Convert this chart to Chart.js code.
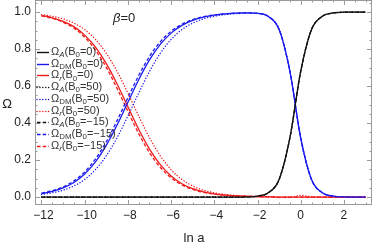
<!DOCTYPE html>
<html>
<head>
<meta charset="utf-8">
<script src="https://cdn.jsdelivr.net/npm/chart.js@4"></script>
<style>
  body { margin: 0; background: #fff; }
  #wrap { width: 374px; height: 245px; position: relative; }
</style>
</head>
<body>
<div id="wrap"><canvas id="omegaChart"></canvas></div>
<script>
// ln a sample points
const lnA = [-12, -11.5, -11, -10.5, -10, -9.5, -9, -8.5, -8, -7.5, -7, -6.5, -6, -5.5, -5, -4.5,
  -4, -3.5, -3, -2.5, -2, -1.5, -1, -0.5, 0, 0.5, 1, 1.5, 2, 2.5, 3];

// B0 = 0 (solid)
const omegaA_0 = [0, 0, 0, 0, 0, 0, 0, 0, 0, 0, 0, 0, 0, 0, 0, 0, 0, 0,
  0, 0.001, 0.005, 0.023, 0.095, 0.321, 0.679, 0.905, 0.977, 0.995, 0.999, 1.0, 1.0];
const omegaDM_0 = [0.019, 0.031, 0.050, 0.079, 0.125, 0.190, 0.279, 0.389, 0.512, 0.634, 0.741,
  0.825, 0.886, 0.928, 0.955, 0.972, 0.983, 0.990, 0.994, 0.995, 0.993, 0.976, 0.905, 0.679,
  0.321, 0.095, 0.023, 0.005, 0.001, 0, 0];
const omegaR_0 = [0.981, 0.969, 0.950, 0.921, 0.875, 0.810, 0.721, 0.611, 0.488, 0.366, 0.259,
  0.175, 0.114, 0.072, 0.045, 0.028, 0.017, 0.010, 0.006, 0.004, 0.002, 0.001, 0, 0, 0, 0, 0,
  0, 0, 0, 0];

// B0 = 50 (dotted)
const omegaA_50 = [0, 0, 0, 0, 0, 0, 0, 0, 0, 0, 0, 0, 0, 0, 0, 0, 0, 0,
  0, 0.001, 0.005, 0.023, 0.095, 0.321, 0.679, 0.905, 0.977, 0.995, 0.999, 1.0, 1.0];
const omegaDM_50 = [0.014, 0.023, 0.037, 0.060, 0.095, 0.148, 0.223, 0.321, 0.438, 0.562, 0.679,
  0.777, 0.852, 0.905, 0.940, 0.963, 0.977, 0.986, 0.991, 0.994, 0.992, 0.975, 0.908, 0.681,
  0.312, 0.094, 0.023, 0.005, 0.001, 0, 0];
const omegaR_50 = [0.986, 0.977, 0.963, 0.940, 0.905, 0.852, 0.777, 0.679, 0.562, 0.438, 0.321,
  0.223, 0.148, 0.095, 0.060, 0.037, 0.023, 0.014, 0.009, 0.005, 0.003, 0.002, -0.003, -0.002,
  0.009, 0.001, 0, 0, 0, 0, 0];

// B0 = -15 (dashed)
const omegaA_m15 = [0, 0, 0, 0, 0, 0, 0, 0, 0, 0, 0, 0, 0, 0, 0, 0, 0, 0,
  0, 0.001, 0.005, 0.023, 0.095, 0.321, 0.679, 0.905, 0.977, 0.995, 0.999, 1.0, 1.0];
const omegaDM_m15 = [0.021, 0.034, 0.055, 0.087, 0.136, 0.206, 0.299, 0.413, 0.537, 0.657, 0.760,
  0.839, 0.896, 0.934, 0.959, 0.975, 0.984, 0.990, 0.994, 0.995, 0.993, 0.976, 0.905, 0.679,
  0.321, 0.095, 0.023, 0.005, 0.001, 0, 0];
const omegaR_m15 = [0.979, 0.966, 0.945, 0.913, 0.864, 0.794, 0.701, 0.587, 0.463, 0.343, 0.240,
  0.161, 0.104, 0.066, 0.041, 0.025, 0.016, 0.010, 0.006, 0.004, 0.002, 0.001, 0, 0, 0, 0, 0,
  0, 0, 0, 0];

const xTicks = [-12, -10, -8, -6, -4, -2, 0, 2];
const xTickLabels = ["−12", "−10", "−8", "−6", "−4", "−2", "0", "2"];
const yTicks = [0, 0.2, 0.4, 0.6, 0.8, 1.0];
const yTickLabels = ["0.0", "0.2", "0.4", "0.6", "0.8", "1.0"];

const BLACK = "#111111", BLUE = "#1a1aee", RED = "#ee1a1a";
const DOT = [0.1, 2.8], DASH = [3.5, 2.2];

function pts(arr) {
  return lnA.map((x, i) => ({ x: x, y: arr[i] }));
}
function series(label, arr, color, dash) {
  return {
    label: label,
    data: pts(arr),
    borderColor: color,
    borderWidth: dash === DOT ? 1.4 : 1.3,
    borderDash: dash || [],
    borderCapStyle: dash === DOT ? "round" : "butt",
    pointRadius: 0,
    cubicInterpolationMode: "monotone",
    fill: false,
  };
}

const datasets = [
  series("Ω_{A}(B_{0}=0)", omegaA_0, BLACK),
  series("Ω_{DM}(B_{0}=0)", omegaDM_0, BLUE),
  series("Ω_{r}(B_{0}=0)", omegaR_0, RED),
  series("Ω_{A}(B_{0}=50)", omegaA_50, BLACK, DOT),
  series("Ω_{DM}(B_{0}=50)", omegaDM_50, BLUE, DOT),
  series("Ω_{r}(B_{0}=50)", omegaR_50, RED, DOT),
  series("Ω_{A}(B_{0}=−15)", omegaA_m15, BLACK, DASH),
  series("Ω_{DM}(B_{0}=−15)", omegaDM_m15, BLUE, DASH),
  series("Ω_{r}(B_{0}=−15)", omegaR_m15, RED, DASH),
];

const FONT = "'Liberation Sans', Arial, sans-serif";

// draw text with _{sub} parts
function drawRich(ctx, str, x, y, size) {
  const parts = str.split(/(_\{[^}]*\})/);
  for (const p of parts) {
    if (!p) continue;
    if (p.startsWith("_{")) {
      const s = p.slice(2, -1);
      ctx.font = (s.length === 1 && /[A-Za-z]/.test(s) ? "italic " : "") + (size * 0.72) + "px " + FONT;
      ctx.fillText(s, x, y + size * 0.28);
      x += ctx.measureText(s).width;
    } else {
      ctx.font = size + "px " + FONT;
      ctx.fillText(p, x, y);
      x += ctx.measureText(p).width;
    }
  }
}

// frame with inward ticks on all sides, tick labels, legend
const framePlugin = {
  id: "frame",
  beforeDatasetsDraw(chart) {
    const { ctx, chartArea: a, scales } = chart;
    const xs = scales.x, ys = scales.y;
    ctx.save();
    ctx.strokeStyle = "#9a9a9a";
    ctx.lineWidth = 1;
    ctx.strokeRect(a.left + 0.5, a.top + 0.5, a.width - 1, a.height - 1);
    ctx.beginPath();
    for (let k = -25; k <= 6; k++) {
      const v = k * 0.5;
      if (v < xs.min || v > xs.max) continue;
      const px = Math.round(xs.getPixelForValue(v)) + 0.5;
      const len = k % 4 === 0 ? 5 : 2.5;
      ctx.moveTo(px, a.bottom); ctx.lineTo(px, a.bottom - len);
      ctx.moveTo(px, a.top); ctx.lineTo(px, a.top + len);
    }
    for (let k = -1; k <= 21; k++) {
      const v = k * 0.05;
      if (v < ys.min || v > ys.max) continue;
      const py = Math.round(ys.getPixelForValue(v)) + 0.5;
      const len = k % 4 === 0 ? 5 : 2.5;
      ctx.moveTo(a.left, py); ctx.lineTo(a.left + len, py);
      ctx.moveTo(a.right, py); ctx.lineTo(a.right - len, py);
    }
    ctx.stroke();

    // tick labels
    ctx.fillStyle = "#222";
    ctx.font = "12px " + FONT;
    ctx.textBaseline = "middle";
    ctx.textAlign = "right";
    yTicks.forEach((v, i) => ctx.fillText(yTickLabels[i], a.left - 4, ys.getPixelForValue(v)));
    ctx.textAlign = "center";
    xTicks.forEach((v, i) => {
      const shift = v < 0 ? 2 : 0;
      ctx.fillText(xTickLabels[i], xs.getPixelForValue(v) + shift, a.bottom + 11);
    });
    ctx.restore();
  },
  afterDraw(chart) {
    const { ctx } = chart;
    ctx.save();
    ctx.fillStyle = "#222";
    ctx.textBaseline = "middle";
    // axis labels
    ctx.font = "13px " + FONT;
    ctx.textAlign = "center";
    ctx.fillText("Ω", 7, 104);
    ctx.fillText("ln a", 194, 238);
    // beta label
    ctx.textAlign = "left";
    ctx.font = "italic 13px " + FONT;
    ctx.fillText("β", 113, 18);
    const bw = ctx.measureText("β").width;
    ctx.font = "13px " + FONT;
    ctx.fillText("=0", 113 + bw, 18);
    // legend
    chart.data.datasets.forEach((ds, i) => {
      const y = 52 + i * 11.7;
      ctx.strokeStyle = ds.borderColor;
      ctx.lineWidth = 1.4;
      ctx.setLineDash(ds.borderDash);
      ctx.lineCap = ds.borderCapStyle;
      ctx.beginPath();
      ctx.moveTo(37, Math.round(y) + 0.5);
      ctx.lineTo(49, Math.round(y) + 0.5);
      ctx.stroke();
      ctx.setLineDash([]);
      ctx.fillStyle = "#333";
      drawRich(ctx, ds.label, 51, y, 11);
    });
    ctx.restore();
  },
};

function noPad(s) {
  s.paddingTop = 0; s.paddingBottom = 0; s.paddingLeft = 0; s.paddingRight = 0;
}

new Chart(document.getElementById("omegaChart").getContext("2d"), {
  type: "line",
  data: { datasets: datasets },
  options: {
    responsive: true,
    maintainAspectRatio: false,
    animation: false,
    layout: { padding: { top: 0, right: 2, left: 0, bottom: 0 } },
    plugins: { legend: { display: false }, tooltip: { enabled: false } },
    scales: {
      x: {
        type: "linear",
        min: -12.3,
        max: 3.3,
        afterBuildTicks: (s) => { s.ticks = xTicks.map((v) => ({ value: v })); },
        afterFit: (s) => { s.height = 40; noPad(s); },
        grid: { display: false },
        border: { display: false },
        ticks: { display: false },
      },
      y: {
        min: -0.043,
        max: 1.065,
        afterBuildTicks: (s) => { s.ticks = yTicks.map((v) => ({ value: v })); },
        afterFit: (s) => { s.width = 35; noPad(s); },
        grid: { display: false },
        border: { display: false },
        ticks: { display: false },
      },
    },
  },
  plugins: [framePlugin],
});
</script>
</body>
</html>
